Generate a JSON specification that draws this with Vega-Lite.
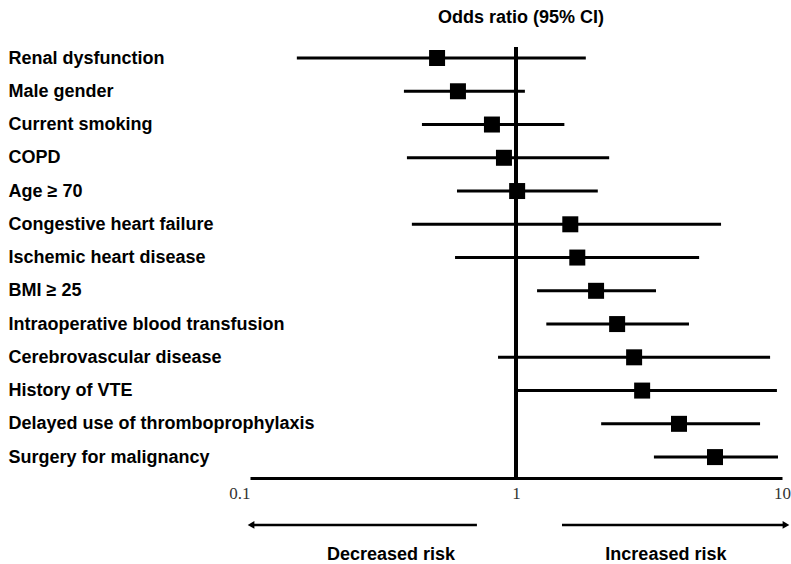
{
  "$schema": "https://vega.github.io/schema/vega-lite/v6.json",
  "background": "white",
  "padding": {"left": 8, "top": 8, "right": 0, "bottom": 0},
  "config": {"view": {"stroke": null}, "font": "Liberation Sans"},
  "spacing": 14,
  "vconcat": [
    {
      "width": 532,
      "height": 431,
      "title": {"text": "Odds ratio  (95% CI)", "fontSize": 18, "fontWeight": "bold", "font": "Liberation Sans", "anchor": "middle", "offset": 19, "dx": 5, "color": "black"},
      "data": {"values": [
        {"factor": "Renal dysfunction", "or": 0.505, "lo": 0.150, "hi": 1.83},
        {"factor": "Male gender", "or": 0.605, "lo": 0.379, "hi": 1.08},
        {"factor": "Current smoking", "or": 0.812, "lo": 0.443, "hi": 1.52},
        {"factor": "COPD", "or": 0.901, "lo": 0.389, "hi": 2.24},
        {"factor": "Age ≥ 70", "or": 1.01, "lo": 0.600, "hi": 2.03},
        {"factor": "Congestive heart failure", "or": 1.60, "lo": 0.406, "hi": 5.90},
        {"factor": "Ischemic heart disease", "or": 1.70, "lo": 0.590, "hi": 4.88},
        {"factor": "BMI ≥ 25", "or": 2.00, "lo": 1.20, "hi": 3.36},
        {"factor": "Intraoperative blood transfusion", "or": 2.40, "lo": 1.30, "hi": 4.47},
        {"factor": "Cerebrovascular disease", "or": 2.78, "lo": 0.856, "hi": 9.02},
        {"factor": "History of VTE", "or": 2.98, "lo": 1.00, "hi": 9.57},
        {"factor": "Delayed use of thromboprophylaxis", "or": 4.10, "lo": 2.09, "hi": 8.27},
        {"factor": "Surgery for malignancy", "or": 5.60, "lo": 3.30, "hi": 9.66}
      ]},
      "layer": [
        {
          "mark": {"type": "rule", "strokeWidth": 3, "color": "black"},
          "encoding": {
            "x": {"datum": 1, "type": "quantitative",
              "scale": {"type": "log", "domain": [0.1, 10], "nice": false},
              "axis": {"values": [0.1, 1, 10], "format": "~g", "title": null, "grid": false, "ticks": false, "tickSize": 0, "domainWidth": 3, "domainColor": "black", "labelFont": "Liberation Serif", "labelFontSize": 17, "labelColor": "#333", "labelPadding": 7, "labelFlush": false, "labelAlign": {"condition": {"test": "datum.value < 0.5", "value": "right"}, "value": "center"}}}
          }
        },
        {
          "mark": {"type": "rule", "strokeWidth": 3, "color": "black"},
          "encoding": {
            "y": {"field": "factor", "type": "nominal", "sort": null,
              "scale": {"type": "point", "padding": 0.48, "align": 0.345},
              "axis": {"title": null, "domain": false, "ticks": false, "tickSize": 0, "labelAlign": "left", "labelBaseline": "middle", "labelPadding": 242, "labelFont": "Liberation Sans", "labelFontSize": 18, "labelFontWeight": "bold", "labelColor": "black", "labelLimit": 0}},
            "x": {"field": "lo", "type": "quantitative",
              "scale": {"type": "log", "domain": [0.1, 10], "nice": false},
              "axis": {"values": [0.1, 1, 10], "format": "~g", "title": null, "grid": false, "ticks": false, "tickSize": 0, "domainWidth": 3, "domainColor": "black", "labelFont": "Liberation Serif", "labelFontSize": 17, "labelColor": "#333", "labelPadding": 7, "labelFlush": false, "labelAlign": {"condition": {"test": "datum.value < 0.5", "value": "right"}, "value": "center"}}},
            "x2": {"field": "hi"}
          }
        },
        {
          "mark": {"type": "point", "shape": "square", "filled": true, "size": 256, "color": "black", "opacity": 1},
          "encoding": {
            "y": {"field": "factor", "type": "nominal", "sort": null,
              "scale": {"type": "point", "padding": 0.48, "align": 0.345},
              "axis": {"title": null, "domain": false, "ticks": false, "tickSize": 0, "labelAlign": "left", "labelBaseline": "middle", "labelPadding": 242, "labelFont": "Liberation Sans", "labelFontSize": 18, "labelFontWeight": "bold", "labelColor": "black", "labelLimit": 0}},
            "x": {"field": "or", "type": "quantitative",
              "scale": {"type": "log", "domain": [0.1, 10], "nice": false},
              "axis": {"values": [0.1, 1, 10], "format": "~g", "title": null, "grid": false, "ticks": false, "tickSize": 0, "domainWidth": 3, "domainColor": "black", "labelFont": "Liberation Serif", "labelFontSize": 17, "labelColor": "#333", "labelPadding": 7, "labelFlush": false, "labelAlign": {"condition": {"test": "datum.value < 0.5", "value": "right"}, "value": "center"}}}
          }
        }
      ]
    },
    {
      "width": 532,
      "height": 50,
      "data": {"values": [
        {"dir": "Decreased risk", "from": 0.713, "to": 0.1009, "mid": 0.339},
        {"dir": "Increased risk", "from": 1.489, "to": 10.35, "mid": 3.66}
      ]},
      "layer": [
        {
          "mark": {"type": "rule", "strokeWidth": 2.5, "color": "black"},
          "encoding": {
            "x": {"field": "from", "type": "quantitative", "scale": {"type": "log", "domain": [0.1, 10], "nice": false}, "axis": null},
            "x2": {"field": "to"},
            "y": {"datum": "arrow", "type": "nominal", "scale": {"type": "point", "domain": ["arrow", "caption"], "padding": 0.33}, "axis": null}
          }
        },
        {
          "mark": {"type": "point", "filled": true, "size": 60, "color": "black", "opacity": 1},
          "encoding": {
            "x": {"field": "to", "type": "quantitative", "scale": {"type": "log", "domain": [0.1, 10], "nice": false}, "axis": null},
            "y": {"datum": "arrow", "type": "nominal", "scale": {"type": "point", "domain": ["arrow", "caption"], "padding": 0.33}, "axis": null},
            "shape": {"field": "dir", "type": "nominal", "scale": {"domain": ["Decreased risk", "Increased risk"], "range": ["triangle-left", "triangle-right"]}, "legend": null}
          }
        },
        {
          "mark": {"type": "text", "fontSize": 18, "fontWeight": "bold", "font": "Liberation Sans", "color": "black", "baseline": "middle", "align": "center"},
          "encoding": {
            "x": {"field": "mid", "type": "quantitative", "scale": {"type": "log", "domain": [0.1, 10], "nice": false}, "axis": null},
            "y": {"datum": "caption", "type": "nominal", "scale": {"type": "point", "domain": ["arrow", "caption"], "padding": 0.33}, "axis": null},
            "text": {"field": "dir"}
          }
        }
      ]
    }
  ]
}
